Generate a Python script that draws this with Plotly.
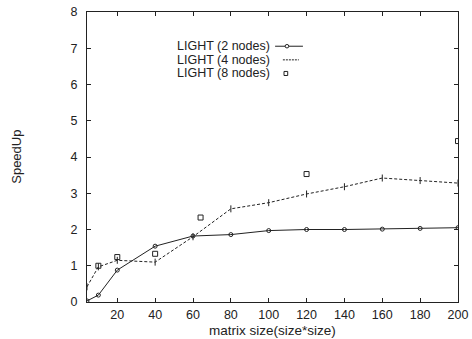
import plotly.graph_objects as go

# ---- data ----
x2 = [4, 10, 20, 40, 60, 80, 100, 120, 140, 160, 180, 200]
y2 = [0.03, 0.19, 0.88, 1.54, 1.82, 1.86, 1.97, 2.0, 2.0, 2.01, 2.03, 2.05]

x4 = [4, 10, 20, 40, 60, 80, 100, 120, 140, 160, 180, 200]
y4 = [0.42, 0.97, 1.15, 1.1, 1.8, 2.57, 2.74, 2.98, 3.18, 3.42, 3.35, 3.28]

x8 = [10, 20, 40, 64, 120, 200]
y8 = [1.0, 1.24, 1.33, 2.33, 3.53, 4.44]

series_names = ["LIGHT (2 nodes)", "LIGHT (4 nodes)", "LIGHT (8 nodes)"]
xticks = [20, 40, 60, 80, 100, 120, 140, 160, 180, 200]
yticks = [0, 1, 2, 3, 4, 5, 6, 7, 8]

FONT = "Liberation Sans, Arial, sans-serif"
INK = "#222222"

fig = go.Figure()
fig.add_trace(go.Scatter(x=x2, y=y2, mode="lines+markers", name=series_names[0],
                         line=dict(color=INK, width=1),
                         marker=dict(symbol="circle-open", size=4, color=INK, line=dict(width=1))))
fig.add_trace(go.Scatter(x=x4, y=y4, mode="lines+markers", name=series_names[1],
                         line=dict(color=INK, width=1, dash="3px,2px"),
                         marker=dict(symbol="line-ns-open", size=5, color=INK, line=dict(width=1))))
fig.add_trace(go.Scatter(x=x8, y=y8, mode="markers", name=series_names[2],
                         marker=dict(symbol="square-open", size=5, color=INK, line=dict(width=1))))

axis_common = dict(
    showgrid=False, zeroline=False, showline=True, mirror="ticks",
    linecolor=INK, linewidth=1, ticks="inside", ticklen=4, tickcolor=INK,
    tickfont=dict(family=FONT, size=12.5, color=INK), automargin=False,
)
fig.update_xaxes(range=[4, 200], tickvals=xticks, ticklabelstandoff=1, **axis_common)
fig.update_yaxes(range=[0, 8], tickvals=yticks, ticklabelstandoff=6, **axis_common)

# axis titles
fig.add_annotation(x=0.5, y=-0.097, xref="paper", yref="paper", text="matrix size(size*size)",
                   showarrow=False, xanchor="center", yanchor="middle",
                   font=dict(family=FONT, size=13.5, color=INK))
fig.add_annotation(x=-0.192, y=0.5, xref="paper", yref="paper", text="SpeedUp", textangle=-90,
                   showarrow=False, xanchor="center", yanchor="middle",
                   font=dict(family=FONT, size=13, color=INK))

# legend drawn gnuplot-style (text right-aligned, sample to the right)
legend_y = [0.882, 0.835, 0.788]
for i, name in enumerate(series_names):
    fig.add_annotation(x=0.495, y=legend_y[i], xref="paper", yref="paper", text=name,
                       showarrow=False, xanchor="right", yanchor="middle", borderpad=0,
                       font=dict(family=FONT, size=12.5, color=INK))
# sample 2 nodes
fig.add_shape(type="line", xref="paper", yref="paper", x0=0.507, x1=0.582, y0=legend_y[0], y1=legend_y[0],
              line=dict(color=INK, width=1))
fig.add_shape(type="circle", xref="paper", yref="paper", x0=0.534, x1=0.544,
              y0=legend_y[0] - 0.006, y1=legend_y[0] + 0.006, line=dict(color=INK, width=1),
              fillcolor="white")
# sample 4 nodes
fig.add_shape(type="line", xref="paper", yref="paper", x0=0.528, x1=0.571, y0=legend_y[1], y1=legend_y[1],
              line=dict(color=INK, width=1, dash="2px,1px"))
# sample 8 nodes
fig.add_shape(type="rect", xref="paper", yref="paper", x0=0.531, x1=0.541,
              y0=legend_y[2] - 0.007, y1=legend_y[2] + 0.007, line=dict(color=INK, width=1))

fig.update_layout(
    width=472, height=339,
    margin=dict(l=87, r=14, t=12, b=37),
    paper_bgcolor="white", plot_bgcolor="white",
    showlegend=False,
    font=dict(family=FONT, color=INK),
)
fig.write_html("out.html", config={"displayModeBar": False},
               post_script="document.body.style.margin='0';document.body.style.overflow='hidden';")
